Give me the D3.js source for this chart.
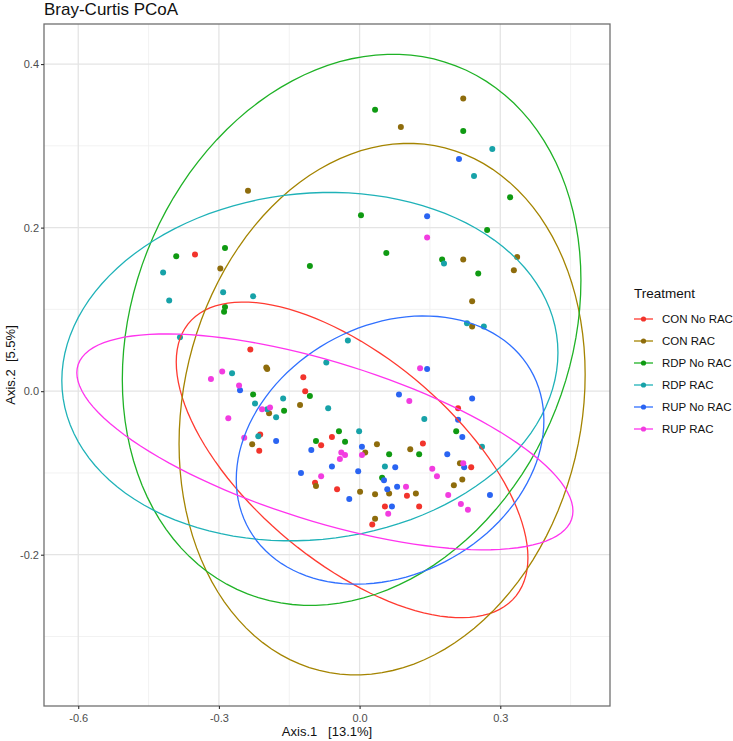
<!DOCTYPE html>
<html>
<head>
<meta charset="utf-8">
<script src="https://cdn.jsdelivr.net/npm/d3@7"></script>
<style>
body { margin: 0; background: #fff; }
text { font-family: "Liberation Sans", Arial, sans-serif; }
</style>
</head>
<body>
<svg id="chart" width="733" height="741"></svg>
<script>
// groups and colours
const groups = ["CON No RAC", "CON RAC", "RDP No RAC", "RDP RAC", "RUP No RAC", "RUP RAC"];
const pointColors = ["#f2342c", "#8e6c0c", "#0f9a12", "#17a2a8", "#2a64f2", "#f23ce0"];
const lineColors  = ["#ff3a30", "#a48400", "#1fb226", "#1fb2b8", "#3070ff", "#ff34ee"];

const xTicks = [-0.6, -0.3, 0.0, 0.3];
const xMinor = [-0.45, -0.15, 0.15, 0.45];
const yTicks = [-0.2, 0.0, 0.2, 0.4];
const yMinor = [-0.3, -0.1, 0.1, 0.3];

// Axis.1, Axis.2 per sample
const conNoRac = [[-0.351,0.167],[-0.233,0.051],[-0.120,0.017],[-0.116,0.000],[-0.212,-0.053],[-0.214,-0.073],
  [-0.059,-0.056],[-0.082,-0.066],[-0.095,-0.112],[-0.048,-0.120],[0.210,-0.021],[0.135,-0.064],[0.238,-0.093],
  [0.101,-0.128],[0.054,-0.141],[0.127,-0.141],[0.027,-0.163]];
const conRac = [[-0.238,0.245],[-0.297,0.150],[0.221,0.358],[0.088,0.323],[0.221,0.161],[0.336,0.164],[0.329,0.148],
  [0.240,0.110],[0.240,0.079],[-0.199,0.029],[-0.197,0.027],[-0.127,-0.017],[-0.193,-0.027],[-0.229,-0.065],
  [-0.093,-0.116],[0.012,-0.075],[0.037,-0.065],[0.108,-0.071],[0.214,-0.088],[0.219,-0.108],[0.201,-0.115],
  [0.063,-0.125],[0.001,-0.123],[0.033,-0.126],[0.120,-0.125],[0.033,-0.156]];
const rdpNoRac = [[-0.391,0.165],[-0.287,0.175],[-0.287,0.103],[-0.289,0.097],[0.033,0.344],[0.221,0.318],[0.321,0.237],
  [0.003,0.215],[0.272,0.197],[0.057,0.169],[-0.106,0.153],[0.176,0.161],[0.253,0.144],[-0.227,-0.004],[-0.106,-0.006],
  [-0.161,-0.024],[-0.044,-0.049],[-0.093,-0.061],[-0.031,-0.062],[0.206,-0.049],[0.063,-0.077],[0.127,-0.077],[0.048,-0.106]];
const rdpRac = [[-0.419,0.145],[-0.406,0.111],[-0.291,0.121],[-0.227,0.116],[-0.383,0.066],[0.283,0.296],[0.244,0.263],
  [0.180,0.156],[0.229,0.083],[0.265,0.079],[-0.025,0.062],[-0.071,0.035],[-0.272,0.022],[-0.223,-0.015],[-0.163,-0.009],
  [-0.197,-0.022],[-0.178,-0.032],[-0.067,-0.021],[-0.216,-0.055],[-0.001,-0.049],[0.138,-0.034],[0.261,-0.068],[0.054,-0.092]];
const rupNoRac = [[0.212,0.284],[0.144,0.214],[-0.255,0.001],[-0.178,-0.061],[-0.103,-0.072],[-0.059,-0.092],[-0.125,-0.100],
  [-0.022,-0.132],[0.144,0.027],[0.084,-0.004],[0.240,-0.009],[0.210,-0.035],[0.219,-0.056],[0.005,-0.068],[0.187,-0.077],
  [0.076,-0.093],[0.223,-0.093],[-0.003,-0.098],[0.052,-0.109],[0.080,-0.117],[0.059,-0.120],[0.278,-0.127],[0.069,-0.141]];
const rupRac = [[0.144,0.188],[-0.293,0.024],[-0.317,0.015],[-0.257,0.007],[-0.208,-0.022],[-0.191,-0.020],[-0.280,-0.033],
  [-0.246,-0.057],[-0.039,-0.075],[-0.031,-0.078],[-0.042,-0.083],[-0.082,-0.104],[0.129,0.028],[0.106,-0.012],[0.005,-0.078],
  [0.221,-0.088],[0.155,-0.095],[0.165,-0.104],[0.099,-0.117],[0.189,-0.127],[0.216,-0.138],[0.231,-0.145],[0.061,-0.150]];
const groupPoints = [conNoRac, conRac, rdpNoRac, rdpRac, rupNoRac, rupRac];

// ellipse per group: centre, half width, half height, tilt (x offset of the top point / half width)
const ellCx   = [-0.016, 0.048, -0.017, -0.106, 0.065, -0.074];
const ellCy   = [-0.084, -0.022, 0.075, 0.030, -0.072, -0.062];
const ellRx   = [0.375, 0.433, 0.489, 0.529, 0.328, 0.529];
const ellHy   = [0.193, 0.325, 0.337, 0.213, 0.164, 0.132];
const ellTilt = [-0.62, 0.13, 0.18, 0.08, 0.22, -0.64];

const svg = d3.select("#chart");
const panel = {left: 44, right: 610, top: 24, bottom: 706};

const x = d3.scaleLinear().domain([-0.673, 0.534]).range([panel.left, panel.right]);
const y = d3.scaleLinear().domain([-0.385, 0.449]).range([panel.bottom, panel.top]);

// title
svg.append("text")
	.attr("x", panel.left)
	.attr("y", 15)
	.attr("font-size", 17)
	.attr("fill", "#111")
	.text("Bray-Curtis PCoA");

// grid
const grid = svg.append("g");
xMinor.forEach(v => grid.append("line")
	.attr("x1", x(v)).attr("x2", x(v)).attr("y1", panel.top).attr("y2", panel.bottom)
	.attr("stroke", "#f1f1f1").attr("stroke-width", 0.9));
yMinor.forEach(v => grid.append("line")
	.attr("x1", panel.left).attr("x2", panel.right).attr("y1", y(v)).attr("y2", y(v))
	.attr("stroke", "#f1f1f1").attr("stroke-width", 0.9));
xTicks.forEach(v => grid.append("line")
	.attr("x1", x(v)).attr("x2", x(v)).attr("y1", panel.top).attr("y2", panel.bottom)
	.attr("stroke", "#e4e4e4").attr("stroke-width", 1.3));
yTicks.forEach(v => grid.append("line")
	.attr("x1", panel.left).attr("x2", panel.right).attr("y1", y(v)).attr("y2", y(v))
	.attr("stroke", "#e4e4e4").attr("stroke-width", 1.3));

// points
groupPoints.forEach((pts, gi) => {
	svg.append("g").selectAll("circle")
		.data(pts)
		.join("circle")
		.attr("cx", d => x(d[0]))
		.attr("cy", d => y(d[1]))
		.attr("r", 3)
		.attr("fill", pointColors[gi]);
});

// ellipses
const line = d3.line().x(d => x(d[0])).y(d => y(d[1]));
groups.forEach((g, gi) => {
	const dy = ellHy[gi] * ellTilt[gi];
	const k = Math.sqrt(ellHy[gi] * ellHy[gi] - dy * dy);
	const pts = d3.range(0, 121).map(i => {
		const t = 2 * Math.PI * i / 120;
		return [ellCx[gi] + ellRx[gi] * Math.cos(t), ellCy[gi] + dy * Math.cos(t) + k * Math.sin(t)];
	});
	svg.append("path")
		.attr("d", line(pts))
		.attr("fill", "none")
		.attr("stroke", lineColors[gi])
		.attr("stroke-width", 1.3);
});

// panel border
svg.append("rect")
	.attr("x", panel.left).attr("y", panel.top)
	.attr("width", panel.right - panel.left).attr("height", panel.bottom - panel.top)
	.attr("fill", "none").attr("stroke", "#707070").attr("stroke-width", 1.3);

// axes
const fmt = d => d.toFixed(1);
const xAxis = svg.append("g")
	.attr("transform", "translate(0," + panel.bottom + ")")
	.call(d3.axisBottom(x).tickValues(xTicks).tickFormat(fmt).tickSize(3).tickSizeOuter(0));
const yAxis = svg.append("g")
	.attr("transform", "translate(" + panel.left + ",0)")
	.call(d3.axisLeft(y).tickValues(yTicks).tickFormat(fmt).tickSize(3).tickSizeOuter(0));
[xAxis, yAxis].forEach(a => {
	a.select(".domain").remove();
	a.selectAll(".tick line").attr("stroke", "#333").attr("stroke-width", 1.1);
	a.selectAll(".tick text").attr("fill", "#4d4d4d").attr("font-size", 11)
		.attr("font-family", "Liberation Sans, Arial, sans-serif");
});
xAxis.selectAll(".tick text").attr("dy", "0.9em");
yAxis.selectAll(".tick text").attr("x", -5);

svg.append("text")
	.attr("x", (panel.left + panel.right) / 2)
	.attr("y", 736)
	.attr("text-anchor", "middle")
	.attr("font-size", 13)
	.attr("fill", "#111")
	.attr("xml:space", "preserve")
	.text("Axis.1   [13.1%]");

svg.append("text")
	.attr("transform", "translate(15," + ((panel.top + panel.bottom) / 2) + ") rotate(-90)")
	.attr("text-anchor", "middle")
	.attr("font-size", 13)
	.attr("fill", "#111")
	.attr("xml:space", "preserve")
	.text("Axis.2  [5.5%]");

// legend
const legend = svg.append("g").attr("transform", "translate(634,0)");
legend.append("text")
	.attr("x", 0).attr("y", 298)
	.attr("font-size", 13.5)
	.attr("fill", "#111")
	.text("Treatment");
groups.forEach((g, gi) => {
	const ly = 319 + gi * 22;
	legend.append("line")
		.attr("x1", 0).attr("x2", 19).attr("y1", ly).attr("y2", ly)
		.attr("stroke", lineColors[gi]).attr("stroke-width", 1.3);
	legend.append("circle")
		.attr("cx", 9.5).attr("cy", ly).attr("r", 2.6)
		.attr("fill", pointColors[gi]);
	legend.append("text")
		.attr("x", 28).attr("y", ly + 4)
		.attr("font-size", 11.5)
		.attr("fill", "#111")
		.text(g);
});
</script>
</body>
</html>
